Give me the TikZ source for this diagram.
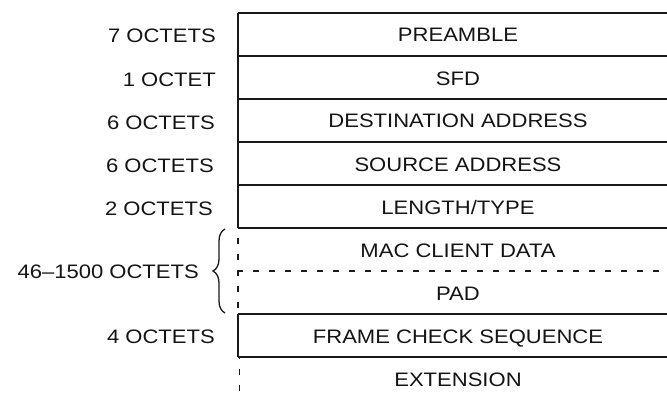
\documentclass[tikz,border=0pt]{standalone}
\usepackage{fontspec}
\setmainfont{Liberation Sans}
\usepackage{graphicx}
\usetikzlibrary{decorations.pathreplacing}
\newcommand{\widetxt}[1]{\scalebox{1.13}[1]{#1}}
\begin{document}
\begin{tikzpicture}[x=1pt,y=-1pt,
  rule/.style={line width=1.6pt, black!90},
  dashrule/.style={line width=1.6pt, black!90, dash pattern=on 6pt off 10pt},
  field/.style={font=\fontsize{19.5}{20}\selectfont, text=black!92, inner sep=0pt, text height=14pt, text depth=0pt},
  size/.style={field, anchor=east}]
\useasboundingbox (0,0) rectangle (667,396);
% frame
\foreach \yy in {13,56,99,142,185,228,314,357}
  \draw[rule] (238,\yy) -- (667,\yy);
\coordinate (tl) at (238,13);
\coordinate (ml) at (238,228);
\coordinate (mm) at (238,271);
\coordinate (mr) at (667,271);
\coordinate (bl) at (238,314);
\coordinate (fl) at (238,357);
\coordinate (el) at (239.5,357);
\coordinate (eb) at (239.5,396);
\draw[rule] (tl) -- (ml);
\draw[dashrule, dash phase=6pt] (ml) -- (bl);
\draw[dashrule, dash phase=1pt] (mm) -- (mr);
\draw[rule] (bl) -- (fl);
\draw[dashrule, dash phase=4pt] (el) -- (eb);
% fields
\node[field] (pre) at (458,35) {\widetxt{PREAMBLE}};
\node[field] (sfd) at (458,78) {\widetxt{SFD}};
\node[field] (dst) at (458,121) {\widetxt{DESTINATION ADDRESS}};
\node[field] (src) at (458,164) {\widetxt{SOURCE ADDRESS}};
\node[field] (len) at (458,207) {\widetxt{LENGTH/TYPE}};
\node[field] (mac) at (458,250) {\widetxt{MAC CLIENT DATA}};
\node[field] (pad) at (458,293) {\widetxt{PAD}};
\node[field] (fcs) at (458,336) {\widetxt{FRAME CHECK SEQUENCE}};
\node[field] (ext) at (458,379) {\widetxt{EXTENSION}};
% sizes
\node[size] (s1) at (216,36) {\widetxt{7 OCTETS}};
\node[size] (s2) at (216,79) {\widetxt{1 OCTET}};
\node[size] (s3) at (215,122) {\widetxt{6 OCTETS}};
\node[size] (s4) at (214,165) {\widetxt{6 OCTETS}};
\node[size] (s5) at (213,208) {\widetxt{2 OCTETS}};
\node[size] (s6) at (199,271) {\widetxt{46–1500 OCTETS}};
\node[size] (s7) at (215,336) {\widetxt{4 OCTETS}};
% brace
\coordinate (bb) at (225,313);
\coordinate (bt) at (225,229);
\draw[line width=1.3pt, black!90, decorate, decoration={brace, amplitude=12pt}] (bb) -- (bt);
\end{tikzpicture}
\end{document}
